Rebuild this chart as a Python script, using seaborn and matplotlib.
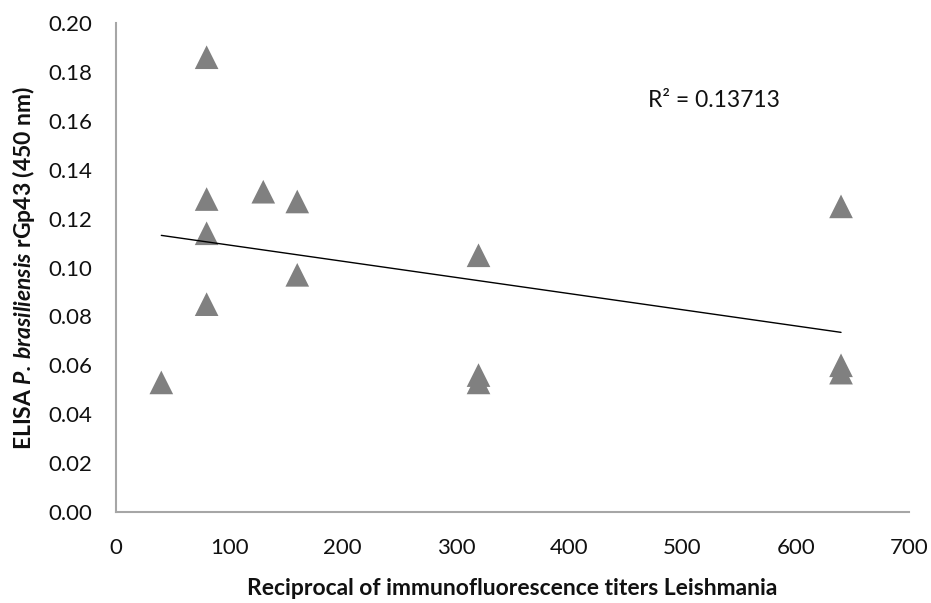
import matplotlib
matplotlib.use("Agg")
import matplotlib.pyplot as plt
import seaborn as sns
import pandas as pd

# --- Data ---
titers = [40, 80, 80, 80, 80, 130, 160, 160, 320, 320, 320, 640, 640, 640]
elisa = [0.053, 0.186, 0.128, 0.114, 0.085, 0.131, 0.127, 0.097,
         0.105, 0.056, 0.053, 0.125, 0.060, 0.057]
x_ticks = [0, 100, 200, 300, 400, 500, 600, 700]
y_ticks = [0.00, 0.02, 0.04, 0.06, 0.08, 0.10, 0.12, 0.14, 0.16, 0.18, 0.20]
r2_label = "R² = 0.13713"

COLOR_MARK = "#808080"
COLOR_AXIS = "#A6A6A6"
COLOR_TEXT = "#111111"

sns.set_theme(style="white")
plt.rcParams['font.family'] = ['Lato', 'DejaVu Sans']
plt.rcParams['mathtext.fontset'] = 'custom'
plt.rcParams['mathtext.rm'] = 'Lato'
plt.rcParams['mathtext.it'] = 'Lato:italic'
plt.rcParams['mathtext.bf'] = 'Lato:bold'
plt.rcParams['mathtext.bfit'] = 'Lato:bold:italic'

df = pd.DataFrame({'titer': titers, 'elisa': elisa})

fig = plt.figure(figsize=(9.31, 6.03), dpi=100)
ax = fig.add_axes([116 / 931, 1 - 512 / 603, 793 / 931, 489 / 603])

sns.regplot(data=df, x='titer', y='elisa', ax=ax, ci=None, marker='^',
            scatter_kws={'s': 290, 'color': COLOR_MARK, 'edgecolors': 'none', 'alpha': 1},
            line_kws={'color': 'black', 'linewidth': 1.0})

ax.set_xlim(0, 700)
ax.set_ylim(0, 0.20)
ax.set_xticks(x_ticks)
ax.set_yticks(y_ticks)
ax.set_xticklabels([str(t) for t in x_ticks])
ax.set_yticklabels([f"{t:.2f}" for t in y_ticks])

for side in ['top', 'right']:
    ax.spines[side].set_visible(False)
for side in ['left', 'bottom']:
    ax.spines[side].set_color(COLOR_AXIS)
    ax.spines[side].set_linewidth(1.5)

ax.tick_params(axis='both', which='major', direction='out', length=6, width=1.2,
               color=COLOR_AXIS, labelsize=16, labelcolor=COLOR_TEXT)
ax.tick_params(axis='x', pad=13)
ax.tick_params(axis='y', pad=11)

ax.set_xlabel("Reciprocal of immunofluorescence titers Leishmania",
              fontsize=16.5, fontweight='bold', color=COLOR_TEXT, labelpad=14)
ax.set_ylabel(r"ELISA $\bfit{P.\,brasiliensis}$ rGp43 (450 nm)",
              fontsize=16.5, fontweight='bold', color=COLOR_TEXT, labelpad=8)

ax.text(470, 0.1685, r2_label, fontsize=16.5, color=COLOR_TEXT, va='center', ha='left')

fig.savefig("out.png", dpi=100)
